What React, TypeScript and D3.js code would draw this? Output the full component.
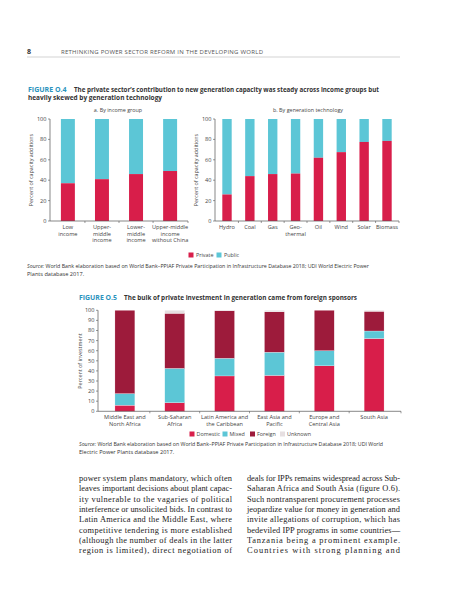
import React from "react";
import * as d3 from "d3";

const incomeGroups = ["Low income", "Upper-middle income", "Lower-middle income", "Upper-middle income without China"];
const incomeLabels = [["Low", "income"], ["Upper-", "middle", "income"], ["Lower-", "middle", "income"], ["Upper-middle", "income", "without China"]];
const incomePrivate = [37, 41, 46, 49];

const technologies = ["Hydro", "Coal", "Gas", "Geothermal", "Oil", "Wind", "Solar", "Biomass"];
const techLabels = [["Hydro"], ["Coal"], ["Gas"], ["Geo-", "thermal"], ["Oil"], ["Wind"], ["Solar"], ["Biomass"]];
const techPrivate = [26, 44, 46, 46.5, 62, 67.5, 77.5, 78.5];

const regions = ["MENA", "SSA", "LAC", "EAP", "ECA", "SA"];
const regionLabels = [["Middle East and", "North Africa"], ["Sub-Saharan", "Africa"], ["Latin America and", "the Caribbean"], ["East Asia and", "Pacific"], ["Europe and", "Central Asia"], ["South Asia"]];
const domestic = [6, 8.5, 35, 35.5, 45, 72];
const mixed = [11.5, 34, 17.5, 23, 15, 7.5];
const foreign = [82.5, 54.5, 47, 40, 40, 19.5];
const unknown = [0, 3, 0.5, 1.5, 0, 1];

const pctTicks4 = [0, 20, 40, 60, 80, 100];
const pctTicks5 = [0, 10, 20, 30, 40, 50, 60, 70, 80, 90, 100];

const bodyLeft = [
  "power system plans mandatory, which often",
  "leaves important decisions about plant capac-",
  "ity vulnerable to the vagaries of political",
  "interference or unsolicited bids. In contrast to",
  "Latin America and the Middle East, where",
  "competitive tendering is more established",
  "(although the number of deals in the latter",
  "region is limited), direct negotiation of",
];
const bodyRight = [
  "deals for IPPs remains widespread across Sub-",
  "Saharan Africa and South Asia (figure O.6).",
  "Such nontransparent procurement processes",
  "jeopardize value for money in generation and",
  "invite allegations of corruption, which has",
  "bedeviled IPP programs in some countries—",
  "Tanzania being a prominent example.",
  "Countries with strong planning and",
];

const C_PRIV = "#d81e4a";
const C_PUB = "#5cc6d6";
const C_FOR = "#9d1b3b";
const C_UNK = "#e6dfe1";
const C_FIG = "#2b93bd";
const SANS = "'Open Sans', 'DejaVu Sans', sans-serif";
const SERIF = "'Liberation Serif', 'DejaVu Serif', serif";
const AX = "#555";

function YAxis({ y, x, ticks, fs }: { y: d3.ScaleLinear<number, number>; x: number; ticks: number[]; fs: number }) {
  return (
    <g>
      <line x1={x} x2={x} y1={y(0)} y2={y(100)} stroke={AX} strokeWidth={0.7} />
      {ticks.map((t) => (
        <g key={t}>
          <line x1={x - 2} x2={x} y1={y(t)} y2={y(t)} stroke={AX} strokeWidth={0.6} />
          <text x={x - 3.5} y={y(t) + fs * 0.35} textAnchor="end" fontSize={fs} fill="#444" fontFamily={SANS}>{t}</text>
        </g>
      ))}
    </g>
  );
}

function XBase({ x, domain, y0, x0, x1 }: { x: d3.ScaleBand<string>; domain: string[]; y0: number; x0: number; x1: number }) {
  const step = x.step();
  const gap = step - x.bandwidth();
  return (
    <g>
      <line x1={x0} x2={x1} y1={y0} y2={y0} stroke={AX} strokeWidth={0.7} />
      {domain.slice(1).map((d) => (
        <line key={d} x1={(x(d) as number) - gap / 2} x2={(x(d) as number) - gap / 2} y1={y0} y2={y0 + 2} stroke={AX} strokeWidth={0.6} />
      ))}
      <line x1={x1} x2={x1} y1={y0} y2={y0 + 2} stroke={AX} strokeWidth={0.6} />
    </g>
  );
}

function Labels({ x, domain, labels, yTop, fs, lh }: { x: d3.ScaleBand<string>; domain: string[]; labels: string[][]; yTop: number; fs: number; lh: number }) {
  return (
    <g>
      {domain.map((d, i) => (
        <text key={d} textAnchor="middle" fontSize={fs} fill="#444" fontFamily={SANS}>
          {labels[i].map((l, j) => (
            <tspan key={j} x={(x(d) as number) + x.bandwidth() / 2} y={yTop + j * lh}>{l}</tspan>
          ))}
        </text>
      ))}
    </g>
  );
}

export default function App() {
  const yA = d3.scaleLinear().domain([0, 100]).range([221, 119]);
  const xA = d3.scaleBand<string>().domain(incomeGroups).range([50, 188]).paddingInner(0.59).paddingOuter(0.32);
  const xB = d3.scaleBand<string>().domain(technologies).range([215, 399]).paddingInner(0.59).paddingOuter(0.32);
  const y5 = d3.scaleLinear().domain([0, 100]).range([411.3, 310.3]);
  const x5 = d3.scaleBand<string>().domain(regions).range([98, 401]).paddingInner(0.6).paddingOuter(0.34);

  const stackData = regions.map((r, i) => ({ r, domestic: domestic[i], mixed: mixed[i], foreign: foreign[i], unknown: unknown[i] }));
  const keys = ["domestic", "mixed", "foreign", "unknown"];
  const colors: Record<string, string> = { domestic: C_PRIV, mixed: C_PUB, foreign: C_FOR, unknown: C_UNK };
  const stacked = d3.stack<any>().keys(keys)(stackData);

  const tfs = 5.6;

  return (
    <svg width={457} height={600} style={{ position: "absolute", left: 0, top: 0, background: "#fff" }}>
      {/* Header */}
      <text x={27} y={53.5} fontSize={7} fontWeight={700} fill="#333" fontFamily={SANS}>8</text>
      <text x={61} y={53.5} fontSize={6} fill="#555" fontFamily={SANS} textLength={202} lengthAdjust="spacing">RETHINKING POWER SECTOR REFORM IN THE DEVELOPING WORLD</text>
      <line x1={27} x2={400} y1={57} y2={57} stroke="#c8c8c8" strokeWidth={0.8} />

      {/* Figure O.4 title */}
      <text x={28} y={91.5} fontSize={7.4} fontWeight={700} fill={C_FIG} fontFamily={SANS} textLength={38.5} lengthAdjust="spacingAndGlyphs">FIGURE O.4</text>
      <text x={74} y={91.5} fontSize={7.4} fontWeight={700} fill="#333" fontFamily={SANS} textLength={305} lengthAdjust="spacingAndGlyphs">The private sector’s contribution to new generation capacity was steady across income groups but</text>
      <text x={28} y={100} fontSize={7.4} fontWeight={700} fill="#333" fontFamily={SANS} textLength={134} lengthAdjust="spacingAndGlyphs">heavily skewed by generation technology</text>

      <text x={118} y={112} textAnchor="middle" fontSize={5.4} fill="#444" fontFamily={SANS}>a. By income group</text>
      <text x={308} y={112} textAnchor="middle" fontSize={5.4} fill="#444" fontFamily={SANS}>b. By generation technology</text>

      {/* Chart a */}
      <text transform={`translate(33,170) rotate(-90)`} textAnchor="middle" fontSize={5.4} fill="#444" fontFamily={SANS}>Percent of capacity additions</text>
      {incomeGroups.map((g, i) => (
        <g key={g}>
          <rect x={xA(g)} y={yA(100)} width={xA.bandwidth()} height={yA(incomePrivate[i]) - yA(100)} fill={C_PUB} />
          <rect x={xA(g)} y={yA(incomePrivate[i])} width={xA.bandwidth()} height={yA(0) - yA(incomePrivate[i])} fill={C_PRIV} />
        </g>
      ))}
      <YAxis y={yA} x={50} ticks={pctTicks4} fs={tfs} />
      <XBase x={xA} domain={incomeGroups} y0={221} x0={50} x1={188} />
      <Labels x={xA} domain={incomeGroups} labels={incomeLabels} yTop={229} fs={tfs} lh={6.6} />

      {/* Chart b */}
      <text transform={`translate(198,170) rotate(-90)`} textAnchor="middle" fontSize={5.4} fill="#444" fontFamily={SANS}>Percent of capacity additions</text>
      {technologies.map((g, i) => (
        <g key={g}>
          <rect x={xB(g)} y={yA(100)} width={xB.bandwidth()} height={yA(techPrivate[i]) - yA(100)} fill={C_PUB} />
          <rect x={xB(g)} y={yA(techPrivate[i])} width={xB.bandwidth()} height={yA(0) - yA(techPrivate[i])} fill={C_PRIV} />
        </g>
      ))}
      <YAxis y={yA} x={215} ticks={pctTicks4} fs={tfs} />
      <XBase x={xB} domain={technologies} y0={221} x0={215} x1={399} />
      <Labels x={xB} domain={technologies} labels={techLabels} yTop={229} fs={tfs} lh={6.6} />

      {/* Legend O.4 */}
      <rect x={188.5} y={252.5} width={5} height={5} fill={C_PRIV} />
      <text x={196} y={257.2} fontSize={5.4} fill="#444" fontFamily={SANS}>Private</text>
      <rect x={216.5} y={252.5} width={5} height={5} fill={C_PUB} />
      <text x={224} y={257.2} fontSize={5.4} fill="#444" fontFamily={SANS}>Public</text>

      {/* Source O.4 */}
      <text x={27} y={267.5} fontSize={5.6} fill="#333" fontFamily={SANS} textLength={342} lengthAdjust="spacingAndGlyphs"><tspan fontStyle="italic">Source:</tspan> World Bank elaboration based on World Bank–PPIAF Private Participation in Infrastructure Database 2018; UDI World Electric Power</text>
      <text x={27} y={275.5} fontSize={5.6} fill="#333" fontFamily={SANS}>Plants database 2017.</text>

      {/* Figure O.5 title */}
      <text x={79} y={300} fontSize={7.4} fontWeight={700} fill={C_FIG} fontFamily={SANS} textLength={38} lengthAdjust="spacingAndGlyphs">FIGURE O.5</text>
      <text x={124} y={300} fontSize={7.4} fontWeight={700} fill="#333" fontFamily={SANS} textLength={233} lengthAdjust="spacingAndGlyphs">The bulk of private investment in generation came from foreign sponsors</text>

      <text transform={`translate(82,361) rotate(-90)`} textAnchor="middle" fontSize={5.4} fill="#444" fontFamily={SANS}>Percent of investment</text>
      {stacked.map((s) => (
        <g key={s.key} fill={colors[s.key]}>
          {s.map((d, i) => (
            d[1] - d[0] > 0 ? (
              <rect key={i} x={x5(regions[i])} y={y5(d[1])} width={x5.bandwidth()} height={y5(d[0]) - y5(d[1])} stroke="#fff" strokeWidth={0.25} />
            ) : null
          ))}
        </g>
      ))}
      <YAxis y={y5} x={98} ticks={pctTicks5} fs={tfs} />
      <XBase x={x5} domain={regions} y0={411.3} x0={98} x1={401} />
      <Labels x={x5} domain={regions} labels={regionLabels} yTop={419} fs={tfs} lh={6.7} />

      {/* Legend O.5 */}
      {[["Domestic", C_PRIV, 189.5], ["Mixed", C_PUB, 222.5], ["Foreign", C_FOR, 250], ["Unknown", C_UNK, 280]].map(([l, c, xx]) => (
        <g key={l as string}>
          <rect x={xx as number} y={431.5} width={5} height={5} fill={c as string} />
          <text x={(xx as number) + 7} y={436.2} fontSize={5.4} fill="#444" fontFamily={SANS}>{l}</text>
        </g>
      ))}

      {/* Source O.5 */}
      <text x={79} y={446} fontSize={5.6} fill="#333" fontFamily={SANS} textLength={304} lengthAdjust="spacingAndGlyphs"><tspan fontStyle="italic">Source:</tspan> World Bank elaboration based on World Bank–PPIAF Private Participation in Infrastructure Database 2018; UDI World</text>
      <text x={79} y={454} fontSize={5.6} fill="#333" fontFamily={SANS}>Electric Power Plants database 2017.</text>

      {/* Body text */}
      {bodyLeft.map((l, i) => (
        <text key={"l" + i} x={79} y={481 + i * 10.33} fontSize={8.4} fill="#222" fontFamily={SERIF} textLength={153} lengthAdjust="spacing">{l}</text>
      ))}
      {bodyRight.map((l, i) => (
        <text key={"r" + i} x={247} y={481 + i * 10.33} fontSize={8.4} fill="#222" fontFamily={SERIF} textLength={153} lengthAdjust="spacing">{l}</text>
      ))}
    </svg>
  );
}
